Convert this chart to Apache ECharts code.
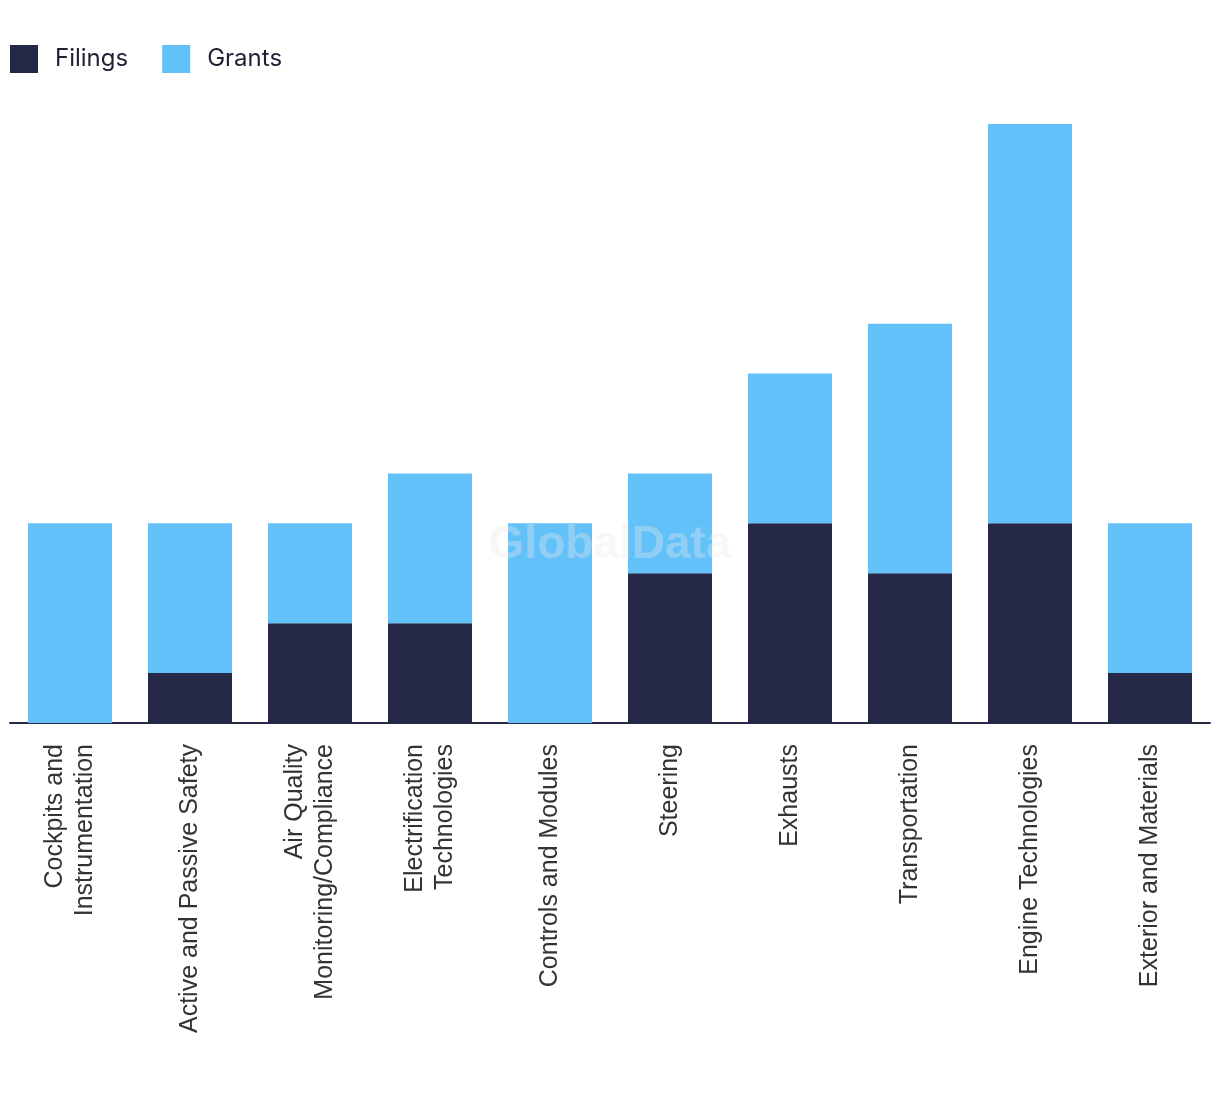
<!DOCTYPE html>
<html><head><meta charset="utf-8">
<script src="https://cdn.jsdelivr.net/npm/echarts@6/dist/echarts.min.js"></script>
<style>html,body{margin:0;padding:0;background:#fff}#c{width:1220px;height:1094px}</style>
</head><body><div id="c"></div>
<script>
const categories = ["Cockpits and\nInstrumentation","Active and Passive Safety","Air Quality\nMonitoring/Compliance","Electrification\nTechnologies","Controls and Modules","Steering","Exhausts","Transportation","Engine Technologies","Exterior and Materials"];
const filings = [0,1,2,2,0,3,4,3,4,1];
const grants = [4,3,2,3,4,2,3,5,8,3];

const chart = echarts.init(document.getElementById('c'));
chart.setOption({
  animation:false,
  color:['#262847','#62c1f9'],
  legend:{left:10,top:45,padding:0,itemWidth:28,itemHeight:28,itemGap:34,icon:'rect',
    textStyle:{fontFamily:'Inter',fontSize:24,color:'#1f2033',padding:[0,0,0,12]},
    data:['Filings','Grants']},
  grid:{left:10,right:10,top:124,bottom:371},
  xAxis:{type:'category',data:categories,
    axisLine:{lineStyle:{color:'#262845',width:2}},axisTick:{show:false},
    axisLabel:{rotate:90,fontFamily:'Liberation Sans',fontSize:25,color:'#333',margin:21,interval:0,lineHeight:30}},
  yAxis:{type:'value',min:0,max:12,show:false},
  graphic:[{type:'text',left:'center',top:522,z:100,
    style:{text:'GlobalData',font:'bold 46px "Liberation Sans"',fill:'#e8e8e8',opacity:0.35}}],
  series:[
    {name:'Filings',type:'bar',stack:'a',barWidth:'70%',data:filings},
    {name:'Grants',type:'bar',stack:'a',barWidth:'70%',data:grants}
  ]
});
</script></body></html>
